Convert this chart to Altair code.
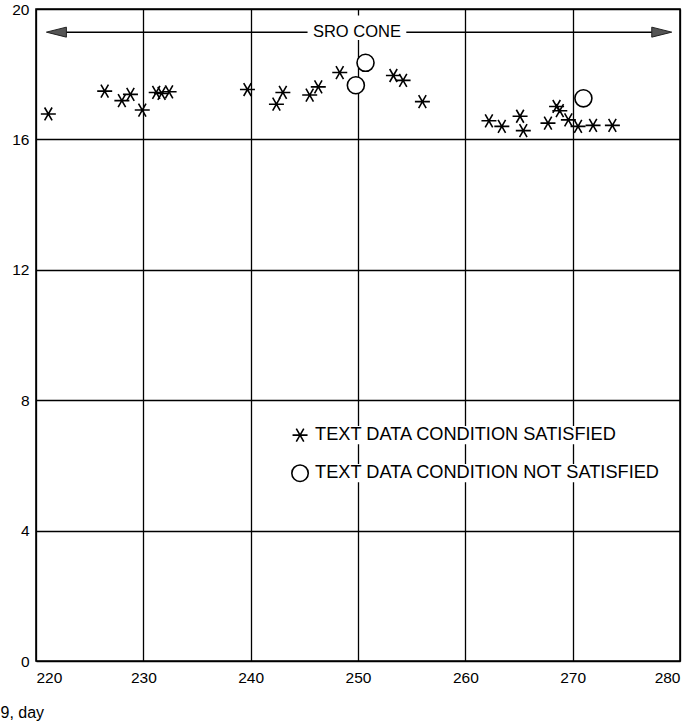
import altair as alt
import pandas as pd

# ---- data ----
days_sat = [221.15, 226.4, 228.0, 228.8, 229.9, 231.2, 231.7, 232.4, 239.7,
            242.4, 243.0, 245.5, 246.3, 248.3, 253.3, 254.2, 256.0,
            262.2, 263.4, 265.1, 265.4, 267.7, 268.5, 268.8, 269.6, 270.5, 271.9, 273.7]
vals_sat = [16.78, 17.48, 17.19, 17.38, 16.90, 17.44, 17.41, 17.46, 17.53,
            17.08, 17.44, 17.36, 17.61, 18.05, 17.96, 17.81, 17.16,
            16.57, 16.40, 16.71, 16.27, 16.50, 17.01, 16.88, 16.60, 16.40, 16.43, 16.43]
days_not = [249.8, 250.7, 271.0]
vals_not = [17.66, 18.35, 17.26]

x_ticks = [220, 230, 240, 250, 260, 270, 280]
y_ticks = [0, 4, 8, 12, 16, 20]

# annotation: SRO cone arrow
cone_y = 19.29
cone_seg_start = [221.5, 254.5]
cone_seg_end = [245.3, 278.8]
cone_label = "SRO CONE"
cone_label_x = 249.9
cone_gap_x = [245.6, 254.2]
cone_gap_y = [19.05, 19.8]
arrow_x = [221.9, 278.3]

# legend
legend_labels = ["TEXT DATA CONDITION SATISFIED", "TEXT DATA CONDITION NOT SATISFIED"]
legend_sym_x = 244.6
legend_text_x = 246.0
legend_y = [6.93, 5.76]
legend_text_end = [274.3, 279.5]

x_title = "9, day"

FONT = "Liberation Sans"
STAR = "M -1 0 L 1 0 M -0.5 -0.866 L 0.5 0.866 M -0.5 0.866 L 0.5 -0.866"
LEFT_ARROW = "M -1 0 L 1 -0.5 L 1 0.5 Z"
RIGHT_ARROW = "M 1 0 L -1 -0.5 L -1 0.5 Z"

xs = alt.Scale(domain=[220, 280], nice=False, zero=False)
ys = alt.Scale(domain=[0, 20], nice=False)

x_axis = alt.Axis(values=x_ticks, grid=True, gridColor="black", gridWidth=1.3,
                  gridOpacity=1, domain=False, ticks=False, labelFlush=True,
                  labelPadding=9, labelFontSize=15.5, labelFont=FONT,
                  labelColor="black", title=x_title, titleFont=FONT,
                  titleFontSize=16, titleFontWeight="normal", titleColor="black",
                  titleX=-36, titleY=51, titleAlign="left", titleBaseline="middle",
                  titleAnchor="start")
y_axis = alt.Axis(values=y_ticks, grid=True, gridColor="black", gridWidth=1.3,
                  gridOpacity=1, domain=False, ticks=False, labelPadding=7,
                  labelFontSize=15.5, labelFont=FONT, labelColor="black", title=None)

sat_df = pd.DataFrame({"day": days_sat, "v": vals_sat})
not_df = pd.DataFrame({"day": days_not, "v": vals_not})

base_axes = alt.Chart(sat_df).mark_point(opacity=0).encode(
    x=alt.X("day:Q", scale=xs, axis=x_axis),
    y=alt.Y("v:Q", scale=ys, axis=y_axis),
)

stars = alt.Chart(sat_df).mark_point(shape=STAR, size=225, filled=False,
                                     stroke="black", strokeWidth=1.6, opacity=1).encode(
    x=alt.X("day:Q", scale=xs), y=alt.Y("v:Q", scale=ys))

circles = alt.Chart(not_df).mark_point(shape="circle", size=290, filled=True,
                                       fill="white", stroke="black", strokeWidth=1.6,
                                       opacity=1).encode(
    x=alt.X("day:Q", scale=xs), y=alt.Y("v:Q", scale=ys))

seg_df = pd.DataFrame({"x1": cone_seg_start, "x2": cone_seg_end, "y": [cone_y] * 2})
segs = alt.Chart(seg_df).mark_rule(color="black", strokeWidth=1.5).encode(
    x=alt.X("x1:Q", scale=xs), x2="x2:Q", y=alt.Y("y:Q", scale=ys))

gap_df = pd.DataFrame({"x1": [cone_gap_x[0]], "x2": [cone_gap_x[1]],
                       "y1": [cone_gap_y[0]], "y2": [cone_gap_y[1]]})
gap = alt.Chart(gap_df).mark_rect(fill="white").encode(
    x=alt.X("x1:Q", scale=xs), x2="x2:Q", y=alt.Y("y1:Q", scale=ys), y2="y2:Q")

cone_txt_df = pd.DataFrame({"x": [cone_label_x], "y": [cone_y], "t": [cone_label]})
cone_txt = alt.Chart(cone_txt_df).mark_text(font=FONT, fontSize=16.5, color="black",
                                            align="center", baseline="middle").encode(
    x=alt.X("x:Q", scale=xs), y=alt.Y("y:Q", scale=ys), text="t:N")

arr_l = alt.Chart(pd.DataFrame({"x": [arrow_x[0]], "y": [cone_y]})).mark_point(
    shape=LEFT_ARROW, size=400, filled=True, fill="#555555", stroke="#222222",
    strokeWidth=1, opacity=1).encode(x=alt.X("x:Q", scale=xs), y=alt.Y("y:Q", scale=ys))
arr_r = alt.Chart(pd.DataFrame({"x": [arrow_x[1]], "y": [cone_y]})).mark_point(
    shape=RIGHT_ARROW, size=400, filled=True, fill="#555555", stroke="#222222",
    strokeWidth=1, opacity=1).encode(x=alt.X("x:Q", scale=xs), y=alt.Y("y:Q", scale=ys))

leg_df = pd.DataFrame({"x1": [legend_text_x] * 2, "x2": legend_text_end,
                       "y": legend_y, "t": legend_labels,
                       "y1": [v - 0.28 for v in legend_y], "y2": [v + 0.28 for v in legend_y]})
leg_bg = alt.Chart(leg_df).mark_rect(fill="white").encode(
    x=alt.X("x1:Q", scale=xs), x2="x2:Q", y=alt.Y("y1:Q", scale=ys), y2="y2:Q")
leg_txt = alt.Chart(leg_df).mark_text(font=FONT, fontSize=18.2, color="black",
                                      align="left", baseline="middle").encode(
    x=alt.X("x1:Q", scale=xs), y=alt.Y("y:Q", scale=ys), text="t:N")
leg_star = alt.Chart(pd.DataFrame({"x": [legend_sym_x], "y": [legend_y[0]]})).mark_point(
    shape=STAR, size=225, filled=False, stroke="black", strokeWidth=1.6, opacity=1).encode(
    x=alt.X("x:Q", scale=xs), y=alt.Y("y:Q", scale=ys))
leg_circ = alt.Chart(pd.DataFrame({"x": [legend_sym_x], "y": [legend_y[1]]})).mark_point(
    shape="circle", size=270, filled=True, fill="white", stroke="black", strokeWidth=1.6,
    opacity=1).encode(x=alt.X("x:Q", scale=xs), y=alt.Y("y:Q", scale=ys))

chart = alt.layer(base_axes, segs, gap, cone_txt, arr_l, arr_r, leg_bg, leg_txt,
                  leg_star, leg_circ, stars, circles).properties(
    width=644, height=652,
    autosize=alt.AutoSizeParams(type="none"),
    padding={"left": 36, "top": 9, "right": 19, "bottom": 62},
    background="white",
).configure_view(stroke="black", strokeWidth=1.6)

chart.save("out.html", embed_options={"renderer": "svg", "actions": False})
